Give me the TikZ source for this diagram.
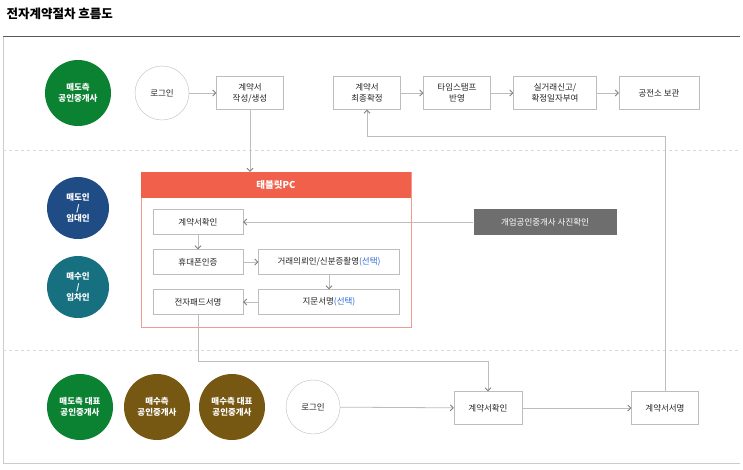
\documentclass[tikz,border=0pt]{standalone}
\usepackage{fontspec}
\setmainfont{Noto Sans CJK KR}
\usetikzlibrary{arrows.meta}
\definecolor{cgreen}{HTML}{0B8232}
\definecolor{cnavy}{HTML}{1F4C84}
\definecolor{cteal}{HTML}{16707F}
\definecolor{cbrown}{HTML}{775813}
\definecolor{cred}{HTML}{F0604B}
\definecolor{cpink}{HTML}{F29A90}
\definecolor{cgray}{HTML}{6E6E6E}
\definecolor{cblue}{HTML}{2E6BD8}
\definecolor{cline}{HTML}{BDBDBD}
\begin{document}
\begin{tikzpicture}[x=1pt,y=-1pt,
  txt/.style={font=\fontsize{8.5}{10.5}\selectfont, align=center, text=black!85},
  role/.style={circle, minimum size=66pt, inner sep=0pt, text=white, align=center, font=\fontsize{8.5}{10.5}\selectfont\bfseries},
  login/.style={circle, draw=cline, fill=white, minimum size=54pt, inner sep=0pt, txt},
  bx/.style={draw=cline, fill=white, minimum height=33pt, inner sep=0pt, txt},
  ibx/.style={draw=cline, fill=white, minimum height=25pt, inner sep=0pt, txt},
  conn/.style={draw=cline, line width=0.8pt, -{Straight Barb[length=3pt,width=6pt,color=gray]}},
  plain/.style={draw=cline, line width=0.8pt}]
\useasboundingbox (0,0) rectangle (743,469);
\node[anchor=west, font=\fontsize{12.5}{14}\selectfont\bfseries] (title) at (3,14) {전자계약절차 흐름도};
\fill[white] (3,36) rectangle (740,463);
\draw[black!20] (3,36) -- (3,463) -- (740,463);
\draw[black!65, line width=0.9pt] (3,36) -- (740,36);
\draw[black!15, dashed] (3,150) -- (740,150);
\draw[black!15, dashed] (3,350) -- (740,350);
% roles
\node[role, fill=cgreen] (r1) at (78,93) {매도측\\공인중개사};
\node[role, fill=cnavy, minimum size=62pt] (r2) at (78,208) {매도인\\/\\임대인};
\node[role, fill=cteal, minimum size=62pt] (r3) at (78,287) {매수인\\/\\임차인};
\node[role, fill=cgreen] (r4) at (80,407) {매도측 대표\\공인중개사};
\node[role, fill=cbrown] (r5) at (157,407) {매수측\\공인중개사};
\node[role, fill=cbrown] (r6) at (232,407) {매수측 대표\\공인중개사};
% top row
\node[login] (l1) at (162,93) {로그인};
\node[bx, minimum width=67pt] (a1) at (250,93) {계약서\\작성/생성};
\node[bx, minimum width=67pt] (a2) at (367,93) {계약서\\최종확정};
\node[bx, minimum width=67pt] (a3) at (457,93) {타임스탬프\\반영};
\node[bx, minimum width=83pt] (a4) at (555,93) {실거래신고/\\확정일자부여};
\node[bx, minimum width=80pt] (a5) at (659,93) {공전소 보관};
\draw[conn] (l1) -- (a1);
\draw[conn] (a2) -- (a3);
\draw[conn] (a3) -- (a4);
\draw[conn] (a4) -- (a5);
% tablet
\node[draw=cpink, line width=0.8pt, minimum width=270pt, minimum height=155pt, inner sep=0pt] (tab) at (276,249.5) {};
\node[fill=cred, minimum width=270.8pt, minimum height=26pt, inner sep=0pt, text=white, font=\fontsize{9.5}{11}\selectfont\bfseries] (tabh) at (276,185) {태블릿PC};
\draw[conn] (a1.south) -- (a1.south |- tabh.north);
\node[ibx, minimum width=90pt] (b1) at (198,222) {계약서확인};
\node[ibx, minimum width=90pt] (b2) at (198,262) {휴대폰인증};
\node[ibx, minimum width=141pt] (b3) at (329,262) {거래의뢰인/신분증촬영\textcolor{cblue}{(선택)}};
\node[ibx, minimum width=90pt] (b4) at (198,302) {전자패드서명};
\node[ibx, minimum width=141pt] (b5) at (329,302) {지문서명\textcolor{cblue}{(선택)}};
\node[fill=cgray, minimum width=143pt, minimum height=26pt, inner sep=0pt, text=white, font=\fontsize{8.5}{10}\selectfont] (g) at (545,222) {개업공인중개사 사진확인};
\draw[conn] (g) -- (b1);
\draw[conn] (b1) -- (b2);
\draw[conn] (b2) -- (b3);
\draw[conn] (b3) -- (b5);
\draw[conn] (b5) -- (b4);
% bottom row
\node[login] (l2) at (313,407) {로그인};
\node[bx, minimum width=68pt] (c1) at (488,408) {계약서확인};
\node[bx, minimum width=67pt] (c2) at (665,408) {계약서서명};
\draw[conn] (l2) -- (c1);
\draw[conn] (c1) -- (c2);
\draw[conn] (b4.south) -- ++(0,47) -| (c1.north);
\draw[conn] (c2.north) -- ++(0,-255) -| (a2.south);
\end{tikzpicture}
\end{document}
